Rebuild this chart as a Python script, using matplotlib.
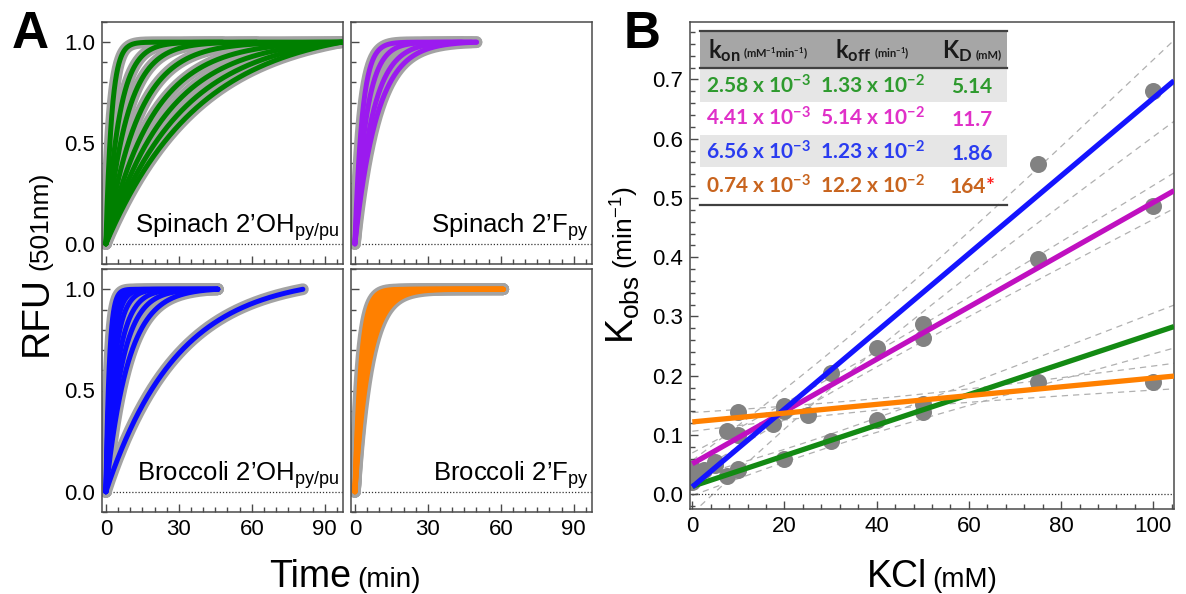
import numpy as np
import matplotlib
matplotlib.use("Agg")
import matplotlib.pyplot as plt
from matplotlib.patches import Rectangle
from matplotlib.lines import Line2D
from matplotlib.ticker import MultipleLocator, FormatStrFormatter
from matplotlib.transforms import IdentityTransform

plt.rcParams["font.family"] = ["Liberation Sans", "DejaVu Sans"]
plt.rcParams["mathtext.fontset"] = "custom"
plt.rcParams["mathtext.rm"] = "Liberation Sans"
plt.rcParams["mathtext.default"] = "regular"

# ---------------- data ----------------
# Panel A: observed rate constants (min^-1) and trace lengths (min)
spinach_oh_k = [0.42, 0.18, 0.115, 0.075, 0.052, 0.040, 0.032, 0.026]
spinach_oh_end = [97, 48, 62, 97, 97, 97, 97, 97]
spinach_f_k = [0.33, 0.21, 0.14, 0.11]
spinach_f_end = [48, 50, 44, 50]
broccoli_oh_k = [0.70, 0.50, 0.38, 0.28, 0.20, 0.15, 0.11, 0.034]
broccoli_oh_end = [46, 46, 46, 46, 46, 46, 46, 81]
broccoli_f_k = [0.40, 0.34, 0.29, 0.25, 0.22, 0.19, 0.17]
broccoli_f_end = [61, 61, 61, 61, 61, 61, 61]

panel_labels = ["Spinach 2’OH$_{py/pu}$", "Spinach 2’F$_{py}$",
                "Broccoli 2’OH$_{py/pu}$", "Broccoli 2’F$_{py}$"]

# Panel B: kobs vs KCl for each construct
green_kcl = [0, 2.5, 7.5, 10, 20, 30, 40, 50, 75]
green_kobs = [0.030, 0.040, 0.030, 0.042, 0.060, 0.090, 0.126, 0.138, 0.189]
magenta_kcl = [0, 5, 7.5, 10, 17.5, 40, 50, 75, 100]
magenta_kobs = [0.045, 0.055, 0.107, 0.100, 0.118, 0.247, 0.264, 0.397, 0.486]
blue_kcl = [0, 5, 10, 20, 30, 50, 75, 100]
blue_kobs = [0.020, 0.050, 0.040, 0.149, 0.205, 0.287, 0.557, 0.680]
orange_kcl = [10, 20, 25, 50, 100]
orange_kobs = [0.138, 0.140, 0.133, 0.152, 0.189]

# fitted parameters (table)
kon = [2.58e-3, 4.41e-3, 6.56e-3, 0.74e-3]     # mM^-1 min^-1
koff = [1.33e-2, 5.14e-2, 1.23e-2, 12.2e-2]    # min^-1
kd = [5.14, 11.7, 1.86, 164]                  # mM

# ---------------- figure ----------------
W, H = 1186, 594
fig = plt.figure(figsize=(W / 100, H / 100), dpi=100)
ident = IdentityTransform()
TABLE_FONT = ["Lato", "DejaVu Sans"]


def axes_px(left, top, right, bottom):
    return fig.add_axes([left / W, 1 - bottom / H, (right - left) / W, (bottom - top) / H])


def rich(x, y, parts, rotation=0, align="center", family=None, weight="normal"):
    """Draw a run of text pieces of different sizes/colours; x,y in pixels from top-left."""
    renderer = fig.canvas.get_renderer()
    items = []
    for p in parts:
        s, size = p[0], p[1]
        color = p[2] if len(p) > 2 else "black"
        gap = p[3] if len(p) > 3 else 0
        kw = dict(fontsize=size, color=color, rotation=rotation, rotation_mode="anchor",
                  ha="left", va="baseline", transform=ident, weight=weight, zorder=10)
        if family:
            kw["family"] = family
        t = fig.text(0, 0, s, **kw)
        ext = t.get_window_extent(renderer)
        length = ext.height if rotation == 90 else ext.width
        items.append((t, length, gap))
    total = sum(l + g for _, l, g in items)
    pos = -total / 2 if align == "center" else (0 if align == "left" else -total)
    dy = H - y
    for t, length, gap in items:
        pos += gap
        if rotation == 90:
            t.set_position((x, dy + pos))
        else:
            t.set_position((x + pos, dy))
        pos += length


def rise(k, t_end):
    t = np.linspace(0, t_end, 400)
    y = (1 - np.exp(-k * t)) / (1 - np.exp(-k * t_end))
    return t, y


def style_ticks(ax):
    ax.tick_params(which="both", direction="in", color=spine_col, width=1, labelsize=16, pad=5)
    ax.tick_params(which="major", length=6)
    ax.tick_params(which="minor", length=3.5)
    for s in ax.spines.values():
        s.set_color(spine_col)
        s.set_linewidth(1.1)


spine_col = "#4a4a4a"
gray_data = "#a3a3a3"

a_axes = [axes_px(102, 22, 343, 264), axes_px(351, 22, 592, 264),
          axes_px(102, 269, 343, 512), axes_px(351, 269, 592, 512)]
a_sets = [(spinach_oh_k, spinach_oh_end, "#008000"),
          (spinach_f_k, spinach_f_end, "#9b1aef"),
          (broccoli_oh_k, broccoli_oh_end, "#0a0aff"),
          (broccoli_f_k, broccoli_f_end, "#ff8000")]

for i, (ax, (ks, ends, col)) in enumerate(zip(a_axes, a_sets)):
    for k, te in zip(ks, ends):
        t, y = rise(k, te)
        ax.plot(t, y, color=gray_data, lw=8.5, solid_capstyle="round", zorder=2)
    for k, te in zip(ks, ends):
        t, y = rise(k, te)
        ax.plot(t, y, color=col, lw=3.6, solid_capstyle="round", zorder=3)
    ax.plot([3, 98], [0, 0], ls=(0, (1, 1.5)), color="#333333", lw=0.9, zorder=1)
    ax.set_xlim(-1.6, 97.5)
    ax.set_ylim(-0.1, 1.1)
    ax.xaxis.set_major_locator(MultipleLocator(30))
    ax.xaxis.set_minor_locator(MultipleLocator(5))
    ax.yaxis.set_major_locator(MultipleLocator(0.5))
    ax.yaxis.set_minor_locator(MultipleLocator(0.1))
    ax.yaxis.set_major_formatter(FormatStrFormatter("%.1f"))
    style_ticks(ax)
    if i < 2:
        ax.tick_params(labelbottom=False)
    if i % 2 == 1:
        ax.tick_params(labelleft=False)
    ax.text(0.985, 0.13, panel_labels[i], transform=ax.transAxes, ha="right",
            va="baseline", fontsize=18.5)

# ---------------- panel B ----------------
axb = axes_px(690, 22, 1174, 509)
b_sets = [(green_kcl, green_kobs, "#138a13"), (magenta_kcl, magenta_kobs, "#c010c0"),
          (blue_kcl, blue_kobs, "#1414ff"), (orange_kcl, orange_kobs, "#ff8000")]
xfit = np.linspace(0, 104.5, 200)
for (xs, ys, col), a, b in zip(b_sets, kon, koff):
    xs = np.asarray(xs, float)
    ys = np.asarray(ys, float)
    axb.scatter(xs, ys, s=150, color="#828282", zorder=2, linewidths=0)
    yfit = a * xfit + b
    n = len(xs)
    resid = ys - (a * xs + b)
    s_err = np.sqrt(np.sum(resid ** 2) / (n - 2))
    sxx = np.sum((xs - xs.mean()) ** 2)
    half = 2.45 * s_err * np.sqrt(1 / n + (xfit - xs.mean()) ** 2 / sxx)
    for sign in (1, -1):
        axb.plot(xfit, yfit + sign * half, ls=(0, (5, 4)), color="#b0b0b0", lw=0.9, zorder=1)
    axb.plot(xfit, yfit, color=col, lw=3.8, zorder=3, solid_capstyle="butt")

axb.plot([0, 104.5], [0, 0], ls=(0, (1, 1.5)), color="#333333", lw=0.9, zorder=1)
axb.set_xlim(-0.5, 104.5)
axb.set_ylim(-0.025, 0.797)
axb.xaxis.set_major_locator(MultipleLocator(20))
axb.xaxis.set_minor_locator(MultipleLocator(4))
axb.yaxis.set_major_locator(MultipleLocator(0.1))
axb.yaxis.set_minor_locator(MultipleLocator(0.02))
axb.yaxis.set_major_formatter(FormatStrFormatter("%.1f"))
style_ticks(axb)

# ---------------- table ----------------
def rect_px(x0, y0, x1, y1, color):
    fig.add_artist(Rectangle((x0 / W, 1 - y1 / H), (x1 - x0) / W, (y1 - y0) / H,
                             transform=fig.transFigure, facecolor=color, edgecolor="none", zorder=5))


def hline_px(x0, x1, y, lw=1.6, color="#404040"):
    fig.add_artist(Line2D([x0 / W, x1 / W], [1 - y / H, 1 - y / H], transform=fig.transFigure,
                          color=color, lw=lw, zorder=6))


tx0, tx1 = 700, 1007
rect_px(tx0, 31, tx1, 68, "#a6a6a6")
rect_px(tx0, 68, tx1, 102, "#e6e6e6")
rect_px(tx0, 135, tx1, 167, "#e6e6e6")
hline_px(tx0, tx1, 31)
hline_px(tx0, tx1, 68)
hline_px(tx0, tx1, 205)

col_x = [758, 872, 972]
row_y = [93, 126, 160, 193]
row_colors = ["#2e9a2e", "#e030c8", "#2a3cf0", "#c8641e"]
head_col = "#1a1a1a"

rich(col_x[0], 58, [("k$_{on}$", 17, head_col), ("(mM$^{-1}$min$^{-1}$)", 8, head_col, 3)],
     family=TABLE_FONT, weight="bold")
rich(col_x[1], 58, [("k$_{off}$", 17, head_col), ("(min$^{-1}$)", 8, head_col, 3)],
     family=TABLE_FONT, weight="bold")
rich(col_x[2], 58, [("K$_{D}$", 17, head_col), ("(mM)", 8, head_col, 3)],
     family=TABLE_FONT, weight="bold")

for r in range(4):
    c = row_colors[r]
    s_on = f"{kon[r] * 1e3:.2f} x 10$^{{-3}}$"
    s_off = f"{koff[r] * 1e2:.3g} x 10$^{{-2}}$"
    s_kd = f"{kd[r]:.3g}"
    rich(col_x[0], row_y[r], [(s_on, 15, c)], family=TABLE_FONT, weight="bold")
    rich(col_x[1], row_y[r], [(s_off, 15, c)], family=TABLE_FONT, weight="bold")
    if r == 3:
        rich(col_x[2], row_y[r], [(s_kd, 15, c), ("*", 15, "#ff2020")],
             family=TABLE_FONT, weight="bold")
    else:
        rich(col_x[2], row_y[r], [(s_kd, 15, c)], family=TABLE_FONT, weight="bold")

# ---------------- axis titles and panel letters ----------------
rich(345, 587, [("Time", 27), ("(min)", 20, "black", 6)])
rich(932, 587, [("KCl", 27), ("(mM)", 20, "black", 6)])
rich(47, 264, [("RFU", 28), ("(501nm)", 19, "black", 6)], rotation=90)
rich(634, 265, [("K$_{obs}$", 27), ("(min$^{-1}$)", 19, "black", 6)], rotation=90)

fig.text(12 / W, 1 - 48 / H, "A", fontsize=37, weight="bold", ha="left", va="baseline")
fig.text(624 / W, 1 - 48 / H, "B", fontsize=37, weight="bold", ha="left", va="baseline")

fig.savefig("out.png", dpi=100)
